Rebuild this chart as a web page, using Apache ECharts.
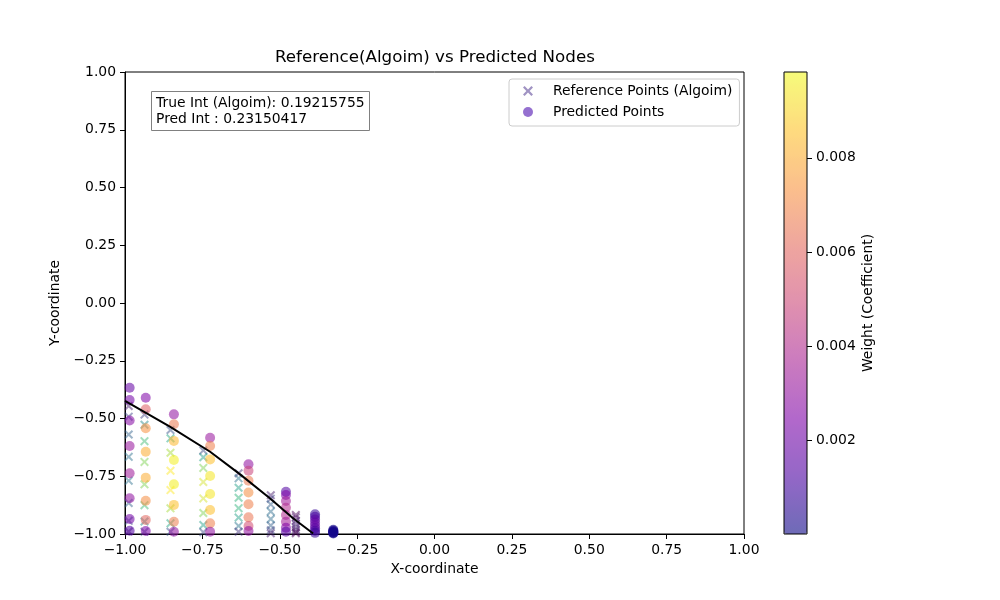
<!DOCTYPE html>
<html lang="en">
<head>
  <meta charset="UTF-8">
  <title>Reference(Algoim) vs Predicted Nodes</title>
</head>
<body style="margin:0; background-color:#ffffff;">
<div id="main" style="width:1000px; height:600px;"></div>

<script src="https://cdn.jsdelivr.net/npm/echarts@6/dist/echarts.min.js"></script>

<script>
  // reference (Algoim) quadrature nodes, one column per x
  var refX = [-0.988, -0.937, -0.853, -0.747, -0.633, -0.529, -0.448];
  var refY = [
    [-0.446, -0.492, -0.569, -0.666, -0.769, -0.866, -0.943, -0.989],
    [-0.483, -0.527, -0.598, -0.688, -0.785, -0.875, -0.946, -0.990],
    [-0.550, -0.586, -0.648, -0.726, -0.810, -0.889, -0.954, -0.990],
    [-0.638, -0.668, -0.714, -0.775, -0.846, -0.909, -0.961, -0.992],
    [-0.737, -0.759, -0.800, -0.843, -0.888, -0.929, -0.965, -0.990],
    [-0.832, -0.847, -0.872, -0.903, -0.935, -0.963, -0.984, -0.997],
    [-0.918, -0.928, -0.943, -0.957, -0.970, -0.981, -0.990, -0.997]
  ];
  var refW = [
    [0.0009, 0.0020, 0.0028, 0.0032, 0.0032, 0.0028, 0.0020, 0.0009],
    [0.0018, 0.0040, 0.0057, 0.0066, 0.0066, 0.0057, 0.0040, 0.0018],
    [0.0023, 0.0050, 0.0071, 0.0082, 0.0082, 0.0071, 0.0050, 0.0023],
    [0.0021, 0.0047, 0.0066, 0.0077, 0.0077, 0.0066, 0.0047, 0.0021],
    [0.0015, 0.0033, 0.0047, 0.0054, 0.0054, 0.0047, 0.0033, 0.0015],
    [0.0009, 0.0019, 0.0027, 0.0031, 0.0031, 0.0027, 0.0019, 0.0009],
    [0.0003, 0.0006, 0.0009, 0.0010, 0.0010, 0.0009, 0.0006, 0.0003]
  ];

  // predicted nodes
  var predX = [-0.985, -0.933, -0.842, -0.725, -0.601, -0.480, -0.386, -0.327];
  var predY = [
    [-0.367, -0.420, -0.509, -0.619, -0.737, -0.845, -0.935, -0.986],
    [-0.410, -0.460, -0.542, -0.644, -0.756, -0.856, -0.939, -0.987],
    [-0.482, -0.525, -0.597, -0.680, -0.785, -0.874, -0.947, -0.990],
    [-0.583, -0.619, -0.677, -0.749, -0.827, -0.896, -0.954, -0.990],
    [-0.698, -0.726, -0.769, -0.820, -0.871, -0.928, -0.965, -0.987],
    [-0.817, -0.831, -0.857, -0.886, -0.918, -0.947, -0.973, -0.990],
    [-0.915, -0.925, -0.937, -0.950, -0.963, -0.975, -0.986, -0.995],
    [-0.982, -0.985, -0.988, -0.990, -0.992, -0.994, -0.996, -0.998]
  ];
  var predW = [
    [0.0018, 0.0022, 0.0027, 0.0032, 0.0034, 0.0030, 0.0022, 0.0014],
    [0.0025, 0.0058, 0.0073, 0.0080, 0.0080, 0.0072, 0.0060, 0.0024],
    [0.0030, 0.0066, 0.0083, 0.0096, 0.0096, 0.0085, 0.0067, 0.0030],
    [0.0032, 0.0068, 0.0085, 0.0094, 0.0094, 0.0085, 0.0068, 0.0030],
    [0.0030, 0.0048, 0.0066, 0.0072, 0.0068, 0.0065, 0.0052, 0.0030],
    [0.0014, 0.0025, 0.0034, 0.0040, 0.0040, 0.0035, 0.0026, 0.0015],
    [0.0008, 0.0012, 0.0016, 0.0018, 0.0018, 0.0016, 0.0012, 0.0008],
    [0.0001, 0.0002, 0.0002, 0.0003, 0.0003, 0.0002, 0.0002, 0.0001]
  ];

  // level-set boundary
  var boundX = [-1.0, -0.855, -0.725, -0.628, -0.531, -0.456, -0.392];
  var boundY = [-0.424, -0.535, -0.644, -0.742, -0.846, -0.933, -0.998];

  var colorbarTicks = [0.002, 0.004, 0.006, 0.008];
  var trueInt = '0.19215755';
  var predInt = '0.23150417';

  var viridis = ['#440154', '#472d7b', '#3b528b', '#2c728e', '#21918c', '#28ae80', '#5ec962', '#addc30', '#fde725'];
  var plasma = ['#0d0887', '#4c02a1', '#7e03a8', '#a92395', '#cc4778', '#e56b5d', '#f89540', '#fdc328', '#f0f921'];

  function rgb(hex) {
    return [parseInt(hex.slice(1, 3), 16), parseInt(hex.slice(3, 5), 16), parseInt(hex.slice(5, 7), 16)];
  }
  function withAlpha(hex, a) {
    var c = rgb(hex);
    return 'rgba(' + c[0] + ',' + c[1] + ',' + c[2] + ',' + a + ')';
  }
  // same colour laid over white, as an opaque colour
  function onWhite(hex, a) {
    var c = rgb(hex).map(function (v) { return Math.round(v * a + 255 * (1 - a)); });
    return 'rgb(' + c.join(',') + ')';
  }

  function fmt(v) {
    var s = Math.abs(v).toFixed(2);
    return (v < -1e-9 ? '\u2212' : '') + s;
  }

  var refData = [];
  refX.forEach(function (x, i) {
    refY[i].forEach(function (y, j) { refData.push([x, y, refW[i][j]]); });
  });
  var predData = [];
  predX.forEach(function (x, i) {
    predY[i].forEach(function (y, j) { predData.push([x, y, predW[i][j]]); });
  });
  var boundData = boundX.map(function (x, i) { return [x, boundY[i]]; });

  var crossPath = 'path://M0,1.6 L1.6,0 L5,3.4 L8.4,0 L10,1.6 L6.6,5 L10,8.4 L8.4,10 L5,6.6 L1.6,10 L0,8.4 L3.4,5 Z';
  var font = 'DejaVu Sans';

  var chart = echarts.init(document.getElementById('main'));

  var option = {
    backgroundColor: '#ffffff',
    animation: false,
    textStyle: { fontFamily: font },
    title: [
      {
        text: 'Reference(Algoim) vs Predicted Nodes',
        left: 275, top: 49, padding: 0,
        textStyle: { fontFamily: font, fontSize: 16.7, fontWeight: 'normal', color: '#000' }
      },
      {
        text: 'True Int (Algoim): ' + trueInt + '\nPred Int : ' + predInt,
        left: 151, top: 91, padding: [4, 5, 4, 5],
        backgroundColor: '#ffffff', borderColor: '#808080', borderWidth: 1,
        textStyle: { fontFamily: font, fontSize: 13.9, fontWeight: 'normal', color: '#000', lineHeight: 16 }
      }
    ],
    legend: {
      orient: 'vertical',
      left: 509, top: 79,
      padding: [5, 7, 7, 14],
      itemWidth: 10, itemHeight: 10, itemGap: 7,
      borderColor: '#cccccc', borderWidth: 1, borderRadius: 3,
      backgroundColor: 'rgba(255,255,255,0.8)',
      textStyle: { fontFamily: font, fontSize: 13.9, color: '#000', padding: [0, 0, 0, 15] },
      data: [
        { name: 'Reference Points (Algoim)', icon: crossPath, itemStyle: { color: '#8878b4' } },
        { name: 'Predicted Points', icon: 'circle', itemStyle: { color: '#7b4cc4' } }
      ]
    },
    visualMap: [
      {
        type: 'continuous', show: false, seriesIndex: 0, dimension: 2,
        min: 0.0003, max: 0.0082,
        inRange: { color: viridis.map(function (c) { return withAlpha(c, 0.6); }) }
      },
      {
        type: 'continuous', show: true, seriesIndex: 1, dimension: 2,
        min: 0.00002, max: 0.00982,
        left: 784, top: 72, padding: 0,
        itemWidth: 23, itemHeight: 462,
        calculable: false, text: null, showLabel: false, hoverLink: false,
        inRange: { color: plasma.map(function (c) { return withAlpha(c, 0.7); }) },
        controller: { inRange: { color: plasma.map(function (c) { return onWhite(c, 0.6); }) } }
      }
    ],
    grid: [
      { left: 125, right: 256, top: 72, bottom: 66, show: true, borderColor: '#000', borderWidth: 1, backgroundColor: 'transparent' },
      { left: 784, top: 72, width: 23, height: 462, show: true, borderColor: '#000', borderWidth: 1, backgroundColor: 'transparent', z: 10 }
    ],
    xAxis: [
      {
        gridIndex: 0, type: 'value', min: -1, max: 1, interval: 0.25,
        name: 'X-coordinate', nameLocation: 'middle', nameGap: 27,
        nameTextStyle: { fontFamily: font, fontSize: 13.9, color: '#000' },
        axisLine: { show: true, onZero: false, lineStyle: { color: '#000', width: 1 } },
        axisTick: { show: true, length: 5, lineStyle: { color: '#000' } },
        axisLabel: { margin: 9, fontSize: 13.9, color: '#000', formatter: fmt },
        splitLine: { show: false }
      },
      { gridIndex: 1, type: 'value', min: 0, max: 1, show: false }
    ],
    yAxis: [
      {
        gridIndex: 0, type: 'value', min: -1, max: 1, interval: 0.25,
        name: 'Y-coordinate', nameLocation: 'middle', nameGap: 53, nameRotate: 90,
        nameTextStyle: { fontFamily: font, fontSize: 13.9, color: '#000' },
        axisLine: { show: true, onZero: false, lineStyle: { color: '#000', width: 1 } },
        axisTick: { show: true, length: 5, lineStyle: { color: '#000' } },
        axisLabel: { margin: 9, fontSize: 13.9, color: '#000', formatter: fmt },
        splitLine: { show: false }
      },
      {
        gridIndex: 1, type: 'value', position: 'right', min: 0.00002, max: 0.00982,
        name: 'Weight (Coefficient)', nameLocation: 'middle', nameGap: 54, nameRotate: 90,
        nameTextStyle: { fontFamily: font, fontSize: 13.9, color: '#000' },
        axisLine: { show: false, onZero: false },
        axisTick: { show: true, length: 5, customValues: colorbarTicks, lineStyle: { color: '#000' } },
        axisLabel: {
          margin: 9, fontSize: 13.9, color: '#000', customValues: colorbarTicks,
          formatter: function (v) { return v.toFixed(3); }
        },
        splitLine: { show: false }
      }
    ],
    series: [
      {
        name: 'Reference Points (Algoim)',
        type: 'scatter',
        xAxisIndex: 0, yAxisIndex: 0,
        symbol: crossPath,
        symbolSize: 9,
        itemStyle: { color: '#8878b4' },
        data: refData
      },
      {
        name: 'Predicted Points',
        type: 'scatter',
        xAxisIndex: 0, yAxisIndex: 0,
        symbol: 'circle',
        symbolSize: 10,
        itemStyle: { color: '#7b4cc4' },
        data: predData
      },
      {
        name: 'boundary',
        type: 'line',
        xAxisIndex: 0, yAxisIndex: 0,
        showSymbol: false,
        symbol: 'none',
        lineStyle: { color: '#000', width: 2 },
        data: boundData,
        z: 5
      }
    ]
  };

  chart.setOption(option);
</script>
</body>
</html>
